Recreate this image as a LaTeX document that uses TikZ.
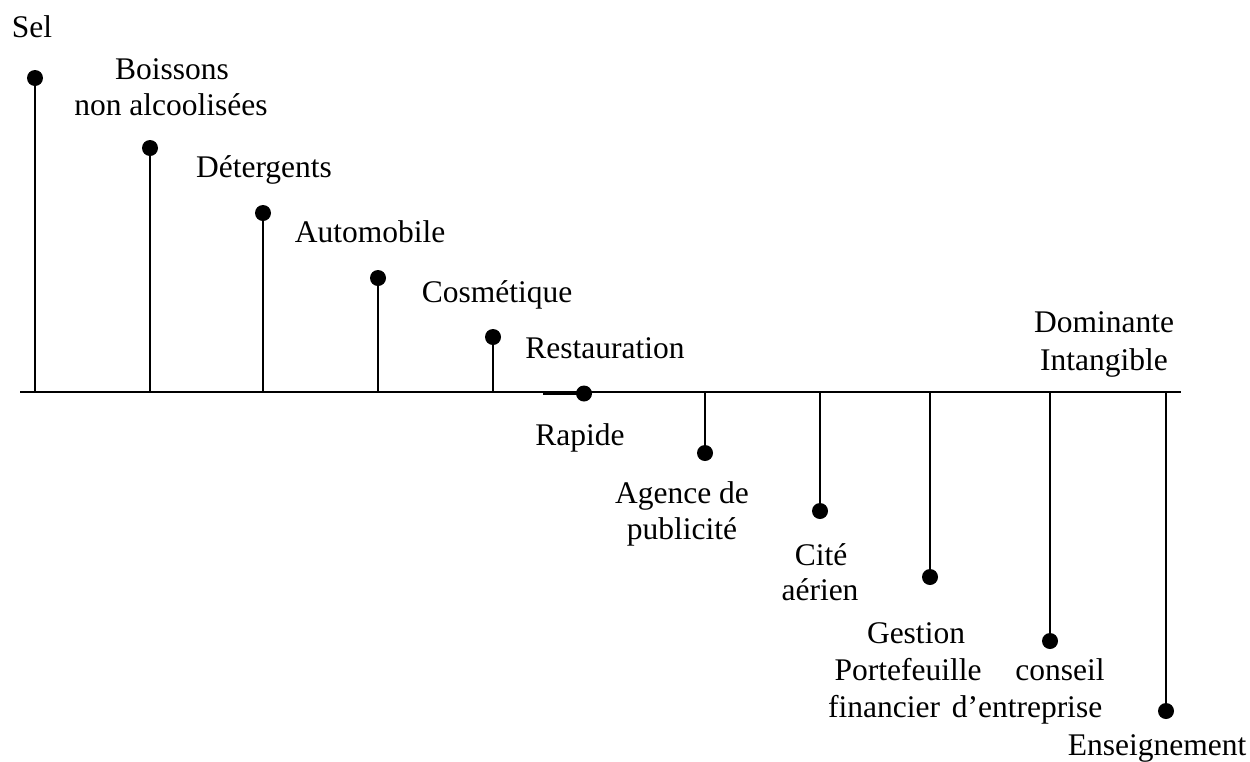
\documentclass[tikz,border=0pt]{standalone}
\usepackage{fontspec}
\setmainfont{Liberation Serif}
\begin{document}
\begin{tikzpicture}[x=1pt,y=-1pt,
  axisline/.style={line width=2.3pt},
  stem/.style={line width=2.8pt},
  dot/.style={circle,fill=black,inner sep=0pt,minimum size=16pt},
  lbl/.style={font=\fontsize{31.5}{37}\selectfont,anchor=base,inner sep=0pt}]
\useasboundingbox (0,0) rectangle (1250,761);
% horizontal axis
\coordinate (axL) at (20,392);
\coordinate (axR) at (1181,392);
\draw[axisline] (axL) -- (axR);
% tangible side: stems above the axis
\coordinate (b1) at (35,392);   \node[dot] (d1) at (35,78) {};
\coordinate (b2) at (150,392);  \node[dot] (d2) at (150,148) {};
\coordinate (b3) at (263,392);  \node[dot] (d3) at (263,213) {};
\coordinate (b4) at (378,392);  \node[dot] (d4) at (378,278) {};
\coordinate (b5) at (493,392);  \node[dot] (d5) at (493,337) {};
\coordinate (b6) at (543,393.5);  \node[dot] (d6) at (584,393.5) {};
% intangible side: stems below the axis
\coordinate (b7) at (705,392);  \node[dot] (d7) at (705,453) {};
\coordinate (b8) at (820,392);  \node[dot] (d8) at (820,511) {};
\coordinate (b9) at (930,392);  \node[dot] (d9) at (930,577) {};
\coordinate (b10) at (1050,392); \node[dot] (d10) at (1050,641) {};
\coordinate (b11) at (1166,392); \node[dot] (d11) at (1166,711) {};
\foreach \i in {1,...,11} \draw[stem] (b\i) -- (d\i.center);
% labels (placed by their baselines)
\node[lbl] (tSel) at (32,37) {Sel};
\node[lbl] (tBoi1) at (172,79) {Boissons};
\node[lbl] (tBoi2) at (171,115) {non alcoolisées};
\node[lbl] (tDet) at (264,177) {Détergents};
\node[lbl] (tAut) at (370,242) {Automobile};
\node[lbl] (tCos) at (497,302) {Cosmétique};
\node[lbl] (tRes) at (605,358) {Restauration};
\node[lbl] (tRap) at (580,445) {Rapide};
\node[lbl] (tAge1) at (682,503) {Agence de};
\node[lbl] (tAge2) at (682,539) {publicité};
\node[lbl] (tCit1) at (821,565) {Cité};
\node[lbl] (tCit2) at (820,600) {aérien};
\node[lbl] (tDom1) at (1104,332) {Dominante};
\node[lbl] (tDom2) at (1104,370) {Intangible};
\node[lbl] (tGes1) at (916,643) {Gestion};
\node[lbl] (tGes2) at (908,680) {Portefeuille};
\node[lbl] (tGes3) at (884,717) {financier};
\node[lbl] (tCon1) at (1060,680) {conseil};
\node[lbl] (tCon2) at (1027,717) {d’entreprise};
\node[lbl] (tEns) at (1157,755) {Enseignement};
\end{tikzpicture}
\end{document}
